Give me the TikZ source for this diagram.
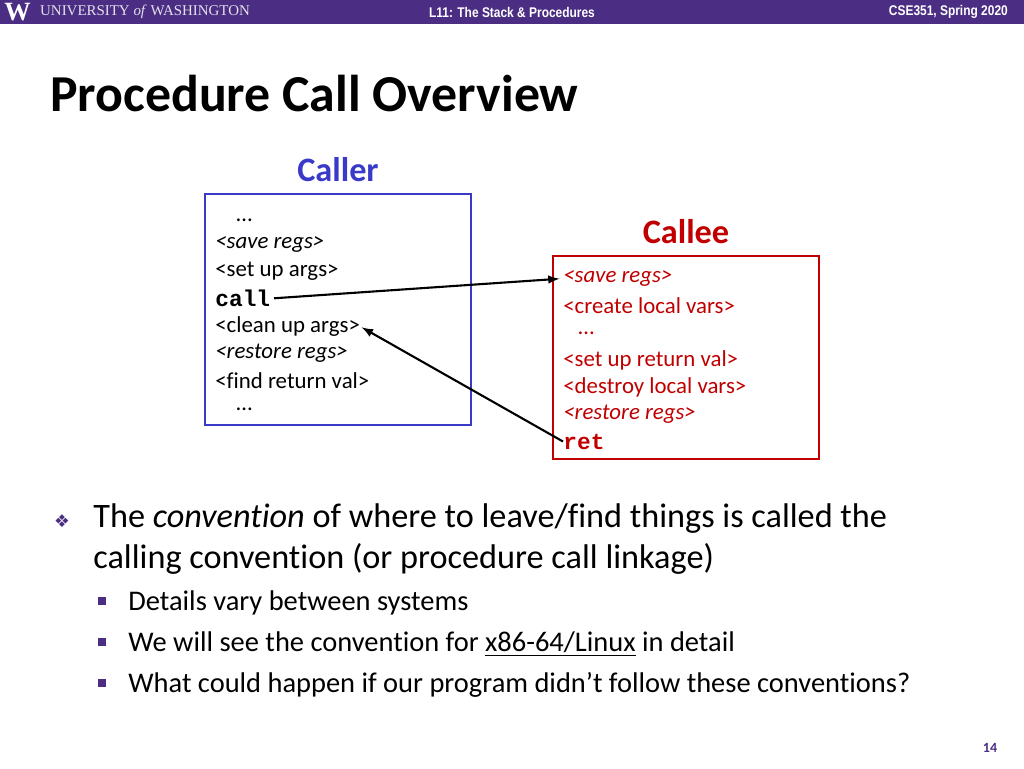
\documentclass[tikz,border=0pt]{standalone}
\usepackage{fontspec}
\setmainfont{Carlito}[Ligatures={NoCommon}]
\setmonofont{Liberation Mono}
\newfontfamily\hdrfont{Liberation Sans}[FakeStretch=0.85]
\newfontfamily\symfont{DejaVu Sans}
\newfontfamily\univfont{Liberation Serif}
\usetikzlibrary{positioning}
\definecolor{uwpurple}{HTML}{4B2E83}
\definecolor{callerblue}{HTML}{3A3AC8}
\definecolor{calleered}{HTML}{C00000}
\tikzstyle{boxline} = [anchor=west, inner sep=0pt, yshift=-2pt, font=\fontsize{13}{15}\selectfont]
\tikzstyle{bodytext} = [anchor=west, inner sep=0pt, font=\fontsize{19.5}{22}\selectfont]
\tikzstyle{subtext} = [anchor=west, inner sep=0pt, font=\fontsize{16.2}{18}\selectfont]
\tikzstyle{sqbullet} = [fill=uwpurple, minimum size=4.5pt, inner sep=0pt]
\begin{document}
\begin{tikzpicture}[x=0.02cm, y=-0.02cm]
    \useasboundingbox (0,0) rectangle (1024,768);
    % header bar
    \fill [uwpurple] (0,0) rectangle (1024,24);
    \node [anchor=west, inner sep=0pt, text=white, font=\univfont\fontsize{15}{15}\selectfont\bfseries] (logo) at (4,12) {W};
    \node [anchor=west, inner sep=0pt, text=white!85!uwpurple, font=\univfont\fontsize{8.5}{9}\selectfont, right=5pt of logo] (univ) {UNIVERSITY \textit{of} WASHINGTON};
    \node [text=white, font=\hdrfont\fontsize{8}{8}\selectfont\bfseries] (lecture) at (512,12) {L11: The Stack \& Procedures};
    \node [anchor=east, text=white, font=\hdrfont\fontsize{8}{8}\selectfont\bfseries] (course) at (1014,12) {CSE351, Spring 2020};

    \node [anchor=west, inner sep=0pt, font=\fontsize{29.5}{32}\selectfont\bfseries] (title) at (50,94) {Procedure Call Overview};

    % caller
    \node [font=\fontsize{19.5}{22}\selectfont\bfseries, text=callerblue] (callerlbl) at (338,170) {Caller};
    \draw [callerblue, line width=0.9pt] (205,194) rectangle (471,425);
    \node [boxline] (r1) at (236,217) {\dots};
    \node [boxline] (r2) at (215,241) {\textit{<save regs>}};
    \node [boxline] (r3) at (215,268) {<set up args>};
    \node [boxline] (r4) at (215,295) {\texttt{\bfseries call}};
    \node [boxline] (r5) at (215,323) {<clean up args>};
    \node [boxline] (r6) at (215,350) {\textit{<restore regs>}};
    \node [boxline] (r7) at (215,377) {<find return val>};
    \node [boxline] (r8) at (236,406) {\dots};

    % callee
    \node [font=\fontsize{19.5}{22}\selectfont\bfseries, text=calleered] (calleelbl) at (686,232) {Callee};
    \draw [calleered, line width=0.9pt] (553,256) rectangle (819,459);
    \begin{scope}[every node/.style={boxline, text=calleered}]
        \node (e1) at (563,275) {\textit{<save regs>}};
        \node (e2) at (563,302) {<create local vars>};
        \node (e3) at (578,330) {\dots};
        \node (e4) at (563,357) {<set up return val>};
        \node (e5) at (563,384) {<destroy local vars>};
        \node (e6) at (563,411) {\textit{<restore regs>}};
        \node (e7) at (563,438) {\texttt{\bfseries ret}};
    \end{scope}

    % arrows
    \draw [-latex, line width=1.2pt, shorten <=2pt, shorten >=2pt] (r4.east) -- (e1.west);
    \draw [-latex, line width=1.2pt, shorten >=1pt] (e7.west) -- (r5.east);

    % bullets
    \node [text=uwpurple, font=\symfont\fontsize{10}{10}\selectfont] (b0) at (62,521) {❖};
    \node [bodytext] (t1) at (93,519) {The \textit{convention} of where to leave/find things is called the};
    \node [bodytext] (t2) at (93,559) {calling convention (or procedure call linkage)};
    \node [sqbullet] (s1) at (102,601) {};
    \node [subtext] (u1) at (128,603) {Details vary between systems};
    \node [sqbullet] (s2) at (102,642) {};
    \node [subtext] (u2) at (128,644) {We will see the convention for \underline{x86-64/Linux} in detail};
    \node [sqbullet] (s3) at (102,683) {};
    \node [subtext] (u3) at (128,685) {What could happen if our program didn’t follow these conventions?};

    \node [font=\fontsize{8}{8}\selectfont\bfseries, text=uwpurple] (page) at (990,748) {14};
\end{tikzpicture}
\end{document}
